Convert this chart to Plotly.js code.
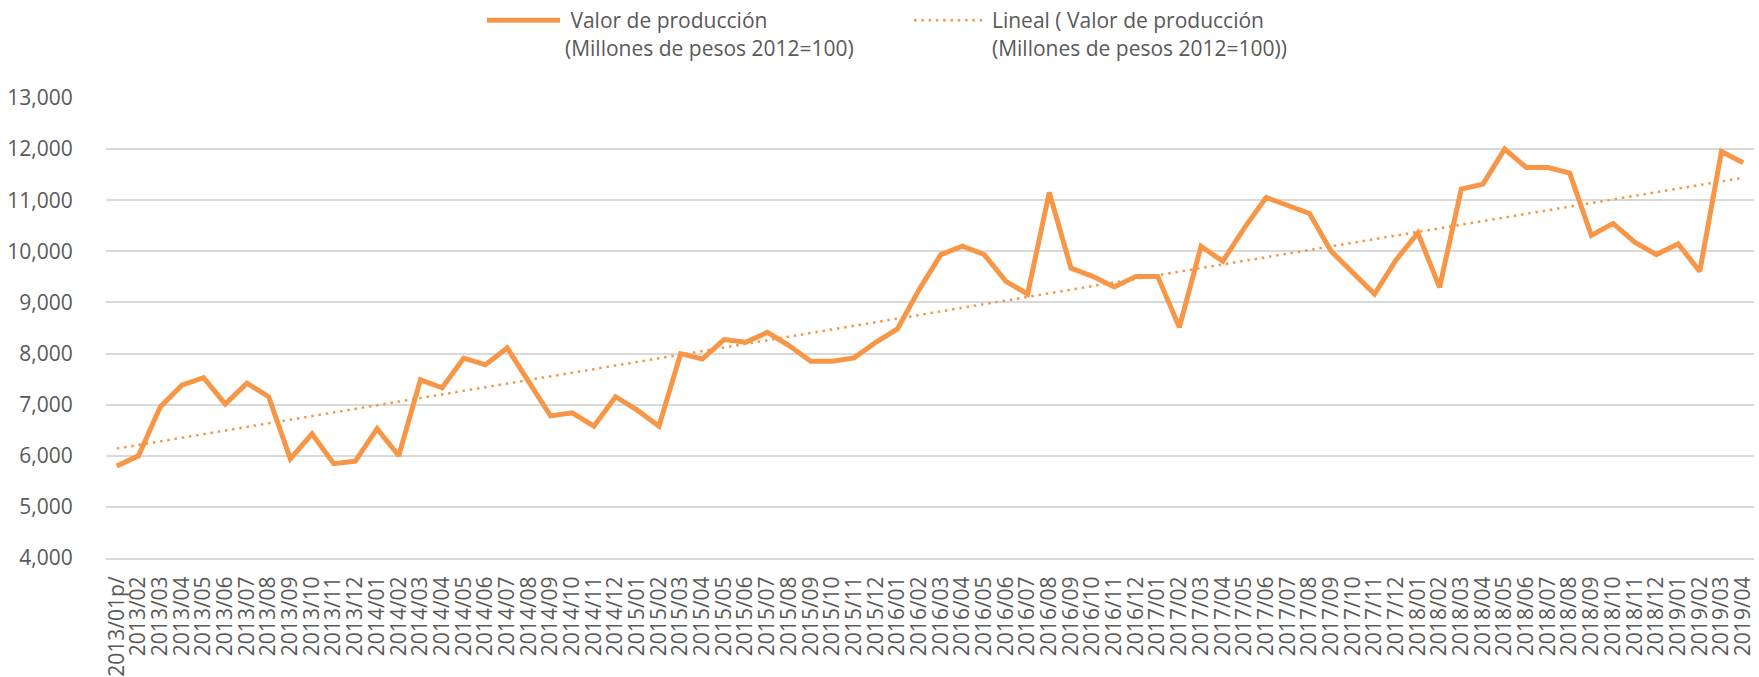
<!DOCTYPE html>
<html>
<head>
<meta charset="utf-8">
<script src="https://cdn.plot.ly/plotly-3.0.1.min.js"></script>
<style>html,body{margin:0;padding:0;background:#fff;}#chart{width:1759px;height:677px;}</style>
</head>
<body>
<div id="chart"></div>
<script>
var categories = [
  "2013/01p/","2013/02","2013/03","2013/04","2013/05","2013/06","2013/07","2013/08","2013/09","2013/10","2013/11","2013/12",
  "2014/01","2014/02","2014/03","2014/04","2014/05","2014/06","2014/07","2014/08","2014/09","2014/10","2014/11","2014/12",
  "2015/01","2015/02","2015/03","2015/04","2015/05","2015/06","2015/07","2015/08","2015/09","2015/10","2015/11","2015/12",
  "2016/01","2016/02","2016/03","2016/04","2016/05","2016/06","2016/07","2016/08","2016/09","2016/10","2016/11","2016/12",
  "2017/01","2017/02","2017/03","2017/04","2017/05","2017/06","2017/07","2017/08","2017/09","2017/10","2017/11","2017/12",
  "2018/01","2018/02","2018/03","2018/04","2018/05","2018/06","2018/07","2018/08","2018/09","2018/10","2018/11","2018/12",
  "2019/01","2019/02","2019/03","2019/04"
];
var valorProduccion = [
  5800, 6000, 6955, 7380, 7530, 7010, 7420, 7155, 5940, 6430, 5845, 5895,
  6530, 6000, 7485, 7330, 7910, 7780, 8110, 7445, 6780, 6840, 6578, 7155,
  6893, 6578, 7998, 7893, 8274, 8221, 8415, 8157, 7850, 7850, 7915, 8221,
  8482, 9251, 9936, 10099, 9936, 9413, 9165, 11150, 9673, 9510, 9301, 9510,
  9510, 8513, 10099, 9805, 10458, 11053, 10890, 10740, 10000, 9595, 9165, 9836,
  10360, 9295, 11216, 11314, 12000, 11640, 11640, 11530, 10310, 10546, 10180, 9936,
  10146, 9608, 11954, 11732
];
var seriesName = "\u00a0Valor de producción<br>(Millones de pesos 2012=100)";
var trendName = "Lineal ( Valor de producción<br>(Millones de pesos 2012=100))";
var yTicks = [4000,5000,6000,7000,8000,9000,10000,11000,12000,13000];

// Linear trend (least squares over category index), as Excel's "Lineal" trendline
var n = valorProduccion.length, sx = 0, sy = 0, sxx = 0, sxy = 0;
for (var i = 0; i < n; i++) { sx += i; sy += valorProduccion[i]; sxx += i*i; sxy += i*valorProduccion[i]; }
var slope = (n*sxy - sx*sy) / (n*sxx - sx*sx);
var intercept = (sy - slope*sx) / n;
var trendValues = valorProduccion.map(function(v, i){ return intercept + slope*i; });

var orange = "#F79646";
var txt = "#595959";
var fontFam = "Open Sans, Liberation Sans, sans-serif";

var traces = [
  {x: categories, y: valorProduccion, type: "scatter", mode: "lines", name: seriesName,
   line: {color: orange, width: 5}},
  {x: categories, y: trendValues, type: "scatter", mode: "lines", name: trendName,
   line: {color: orange, width: 2.5, dash: "2.5px,4.8px"}}
];

var layout = {
  width: 1759, height: 677,
  margin: {l: 106, r: 5, t: 98, b: 119, pad: 0},
  paper_bgcolor: "#ffffff", plot_bgcolor: "#ffffff",
  font: {family: fontFam, size: 21, color: txt},
  showlegend: true,
  legend: {orientation: "h", xref: "container", yref: "container", x: 0.274, y: 1.0,
           xanchor: "left", yanchor: "top", valign: "top", itemwidth: 73,
           font: {family: fontFam, size: 21, color: txt}, bgcolor: "rgba(0,0,0,0)",
           entrywidth: 339, tracegroupgap: 0},
  xaxis: {type: "category", range: [-0.5, categories.length - 0.5],
          tickmode: "array", tickvals: categories, ticktext: categories,
          tickangle: -90, showgrid: false, showline: true, linecolor: "#D9D9D9", linewidth: 2,
          ticks: "outside", ticklen: 8, tickcolor: "rgba(0,0,0,0)",
          tickfont: {family: fontFam, size: 21, color: txt}, automargin: false, fixedrange: true},
  yaxis: {range: [4000, 13000], tickmode: "array", tickvals: yTicks, tickformat: ",d",
          showgrid: true, gridcolor: "#D9D9D9", gridwidth: 2, zeroline: false, showline: false,
          ticks: "outside", ticklen: 28, tickcolor: "rgba(0,0,0,0)",
          tickfont: {family: fontFam, size: 21, color: txt}, automargin: false, fixedrange: true}
};

Plotly.newPlot("chart", traces, layout, {displayModeBar: false, staticPlot: true});
</script>
</body>
</html>
